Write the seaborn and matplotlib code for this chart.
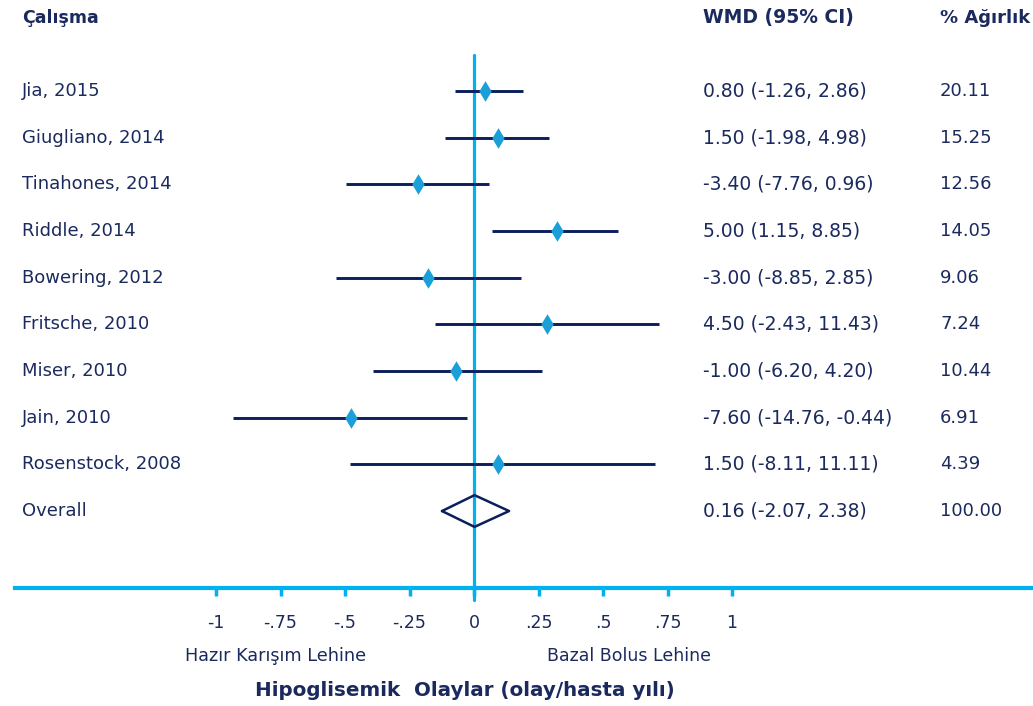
import matplotlib.pyplot as plt
import matplotlib.transforms as mtransforms
import pandas as pd
import seaborn as sns

# study rows (plotted positions, scaled axis -1..1)
studies = ["Jia, 2015", "Giugliano, 2014", "Tinahones, 2014", "Riddle, 2014",
           "Bowering, 2012", "Fritsche, 2010", "Miser, 2010", "Jain, 2010",
           "Rosenstock, 2008"]
est = [0.043, 0.093, -0.217, 0.322, -0.178, 0.283, -0.070, -0.477, 0.093]
lo = [-0.074, -0.112, -0.496, 0.070, -0.535, -0.151, -0.391, -0.934, -0.481]
hi = [0.190, 0.291, 0.058, 0.558, 0.182, 0.717, 0.264, -0.027, 0.702]
wmd_text = ["0.80 (-1.26, 2.86)", "1.50 (-1.98, 4.98)", "-3.40 (-7.76, 0.96)",
            "5.00 (1.15, 8.85)", "-3.00 (-8.85, 2.85)", "4.50 (-2.43, 11.43)",
            "-1.00 (-6.20, 4.20)", "-7.60 (-14.76, -0.44)", "1.50 (-8.11, 11.11)"]
weights = ["20.11", "15.25", "12.56", "14.05", "9.06", "7.24", "10.44", "6.91", "4.39"]

overall_label = "Overall"
overall_est, overall_lo, overall_hi = 0.002, -0.124, 0.136
overall_wmd = "0.16 (-2.07, 2.38)"
overall_weight = "100.00"

tick_vals = [-1, -0.75, -0.5, -0.25, 0, 0.25, 0.5, 0.75, 1]
tick_labels = ["-1", "-.75", "-.5", "-.25", "0", ".25", ".5", ".75", "1"]

NAVY = "#1b2a5e"
LINE = "#0b1f5c"
CYAN = "#00b0f0"
MARK = "#1a9fd9"

sns.set_theme(style="white")
plt.rcParams["font.family"] = ["DejaVu Sans"]

df = pd.DataFrame({"study": studies, "est": est, "lo": lo, "hi": hi,
                   "row": range(len(studies))})

fig = plt.figure(figsize=(10.33, 7.06), dpi=100)
ax = fig.add_axes([15 / 1033, 118 / 706, 1018 / 1033, 588 / 706])

# confidence intervals
ax.hlines(df["row"], df["lo"], df["hi"], color=LINE, lw=2.1, zorder=2)
sns.scatterplot(data=df, x="est", y="row", marker="d", s=110, color=MARK,
                edgecolor=MARK, linewidth=0, ax=ax, zorder=3)

# overall diamond
r = len(studies)
h = 0.34
ax.plot([overall_lo, overall_est, overall_hi, overall_est, overall_lo],
        [r, r - h, r, r + h, r], color=LINE, lw=1.8, zorder=3)

# null line
ax.axvline(0, ymin=-0.02, ymax=0.906, color=CYAN, lw=2.3, zorder=1, clip_on=False)

ax.set_xlim((15 - 474) / 258, (1033 - 474) / 258)
ax.set_ylim(497 / 46.67, -91 / 46.67)
ax.set_xlabel("")
ax.set_ylabel("")
ax.set_yticks([])
ax.set_xticks(tick_vals)
ax.set_xticklabels(tick_labels)
ax.tick_params(axis="x", direction="out", length=6, width=2.5, color=CYAN,
               pad=13, labelsize=12.5, labelcolor=NAVY, bottom=True)
for side in ["top", "left", "right"]:
    ax.spines[side].set_visible(False)
ax.spines["bottom"].set_color(CYAN)
ax.spines["bottom"].set_linewidth(3)

# text columns
tr = mtransforms.blended_transform_factory(ax.transAxes, ax.transData)
col_name, col_wmd, col_w = (22 - 15) / 1018, (703 - 15) / 1018, (940 - 15) / 1018
head_y = (18 - 91) / 46.67
ax.text(col_name, head_y, "Çalışma", transform=tr, fontsize=12.5, weight="bold",
        color=NAVY, va="center", ha="left")
ax.text(col_wmd, head_y, "WMD (95% CI)", transform=tr, fontsize=13.5, weight="bold",
        color=NAVY, va="center", ha="left")
ax.text(col_w, head_y, "% Ağırlık", transform=tr, fontsize=13, weight="bold",
        color=NAVY, va="center", ha="left")

names = studies + [overall_label]
wmds = wmd_text + [overall_wmd]
ws = weights + [overall_weight]
for i, (n, wtxt, wt) in enumerate(zip(names, wmds, ws)):
    ax.text(col_name, i, n, transform=tr, fontsize=13, color=NAVY, va="center", ha="left")
    ax.text(col_wmd, i, wtxt, transform=tr, fontsize=13.5, color=NAVY, va="center", ha="left")
    ax.text(col_w, i, wt, transform=tr, fontsize=13, color=NAVY, va="center", ha="left")

fig.text(276 / 1033, 1 - 656 / 706, "Hazır Karışım Lehine", fontsize=12.7,
         color=NAVY, ha="center", va="center")
fig.text(629 / 1033, 1 - 656 / 706, "Bazal Bolus Lehine", fontsize=12.5,
         color=NAVY, ha="center", va="center")
fig.text(465 / 1033, 1 - 690 / 706, "Hipoglisemik  Olaylar (olay/hasta yılı)",
         fontsize=14.3, weight="bold", color=NAVY, ha="center", va="center")

fig.savefig("out.png", dpi=100, facecolor="white")
